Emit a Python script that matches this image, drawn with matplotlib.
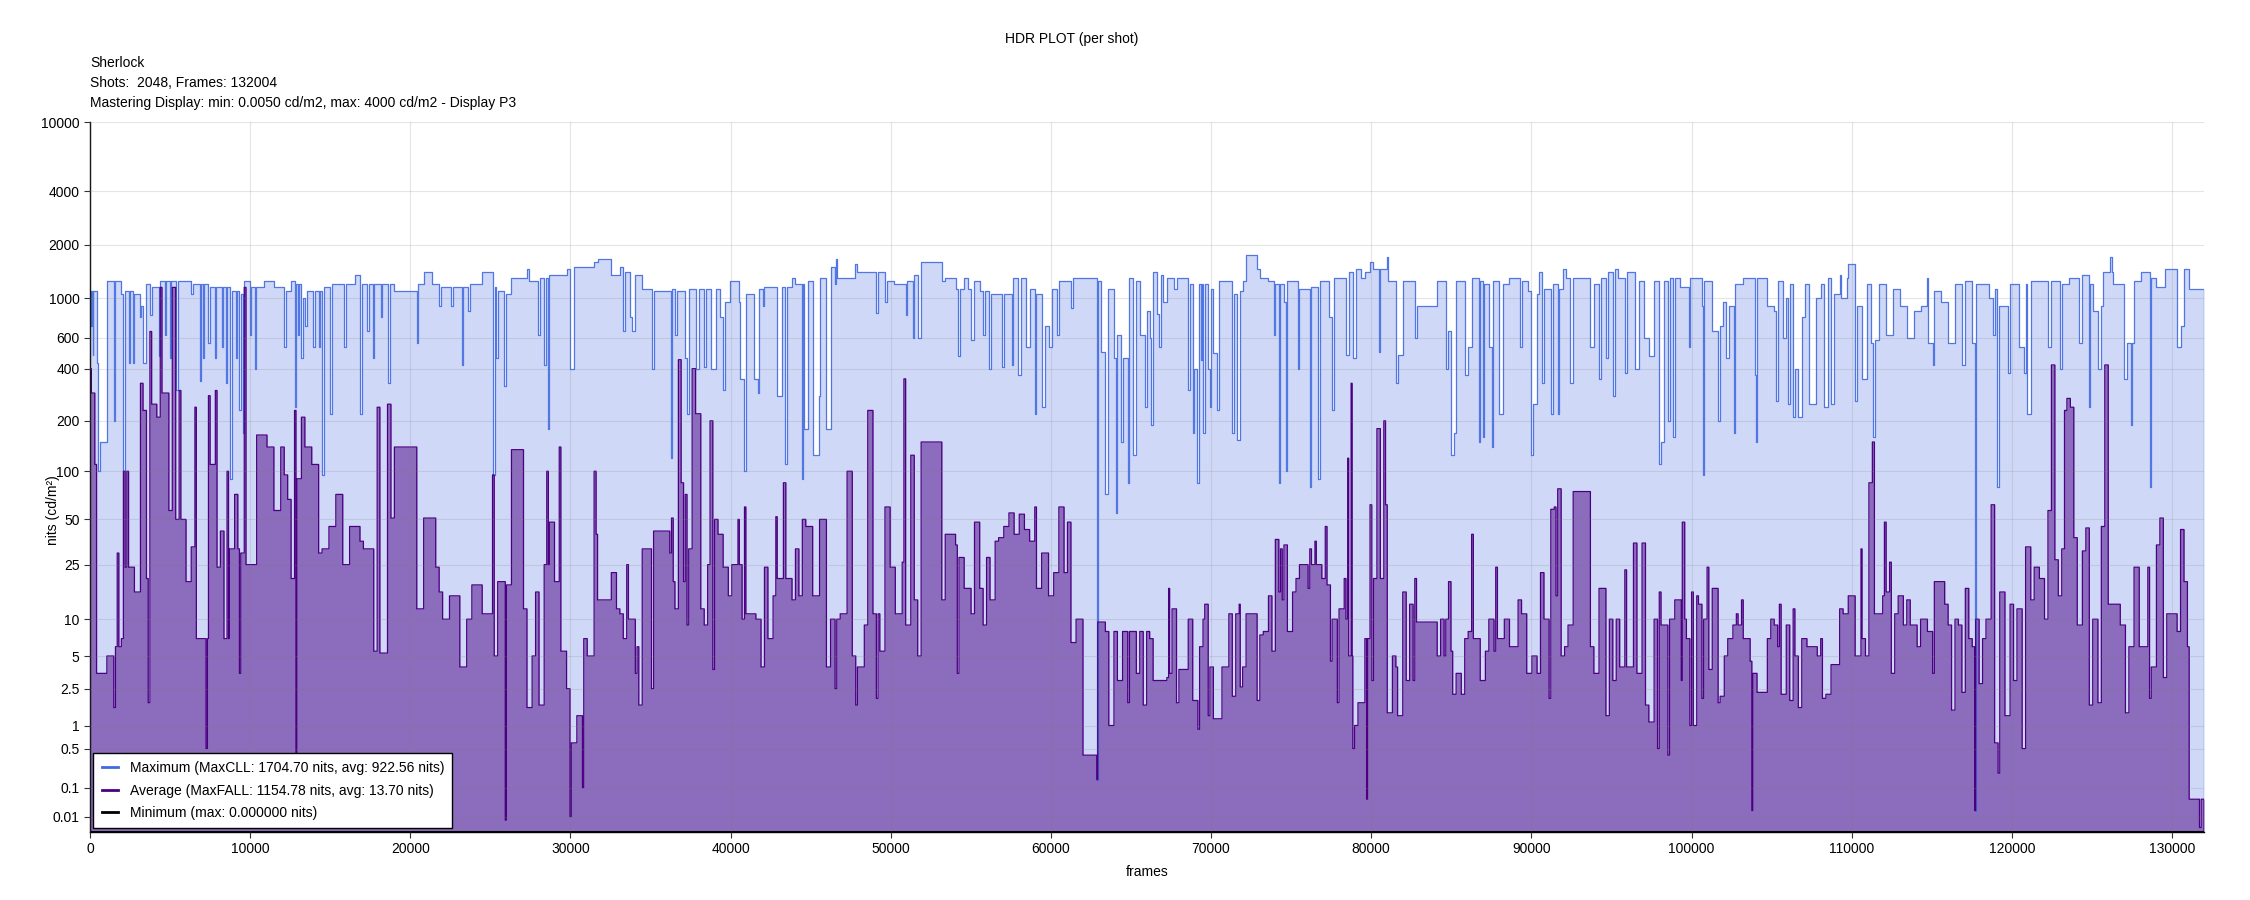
import numpy as np
import matplotlib
matplotlib.use('Agg')
import matplotlib.pyplot as plt
from matplotlib.lines import Line2D
from matplotlib.ticker import NullLocator

plt.rcParams['font.family'] = ['Liberation Sans', 'DejaVu Sans']

# ---- data ----
title = 'HDR PLOT (per shot)'
info_lines = ['Sherlock',
              'Shots:  2048, Frames: 132004',
              'Mastering Display: min: 0.0050 cd/m2, max: 4000 cd/m2 - Display P3']
total_frames = 132004

y_ticks = [0.01, 0.1, 0.5, 1, 2.5, 5, 10, 25, 50, 100, 200, 400, 600, 1000, 2000, 4000, 10000]
y_tick_labels = ['0.01', '0.1', '0.5', '1', '2.5', '5', '10', '25', '50', '100', '200',
                 '400', '600', '1000', '2000', '4000', '10000']
x_ticks = list(range(0, 130001, 10000))

legend_labels = ['Maximum (MaxCLL: 1704.70 nits, avg: 922.56 nits)',
                 'Average (MaxFALL: 1154.78 nits, avg: 13.70 nits)',
                 'Minimum (max: 0.000000 nits)']

# (shot start frame, max nits)
max_shots = [
    (0, 1100), (86, 700), (130, 1100), (170, 480), (215, 1100), (410, 430), (516, 100), (624, 150),
    (1054, 1250), (1484, 200), (1590, 1250), (1957, 1050), (2085, 100), (2193, 1100), (2408, 430),
    (2473, 1100), (2666, 430), (2774, 1050), (3096, 780), (3204, 900), (3311, 430), (3526, 1200),
    (3741, 800), (3849, 1150), (4280, 470), (4386, 1250), (4709, 620), (4773, 1250), (4988, 460),
    (5053, 1250), (5400, 300), (5480, 1250), (6321, 1050), (6429, 1200), (6859, 340), (6923, 1200),
    (7074, 460), (7138, 1200), (7396, 560), (7482, 1150), (7826, 460), (7890, 1150), (8256, 530),
    (8320, 1150), (8471, 330), (8557, 1150), (8750, 90), (8836, 1100), (9116, 460), (9202, 1100),
    (9331, 230), (9417, 1050), (9546, 170), (9632, 1250), (9976, 620), (10062, 1150), (10298, 400),
    (10384, 1150), (10836, 1250), (11481, 1150), (12126, 530), (12233, 1100), (12556, 1250),
    (12771, 240), (12878, 1200), (12986, 620), (13072, 1200), (13201, 460), (13308, 1000),
    (13416, 700), (13523, 1100), (13953, 530), (14060, 1100), (14275, 530), (14383, 1100),
    (14490, 95), (14619, 1150), (14963, 220), (15136, 1200), (15888, 530), (15996, 1200),
    (16533, 1350), (16856, 220), (16963, 1200), (17286, 650), (17393, 1200), (17673, 460),
    (17759, 1200), (18146, 780), (18253, 1200), (18576, 330), (18705, 1200), (19006, 1100),
    (20403, 560), (20511, 1200), (20833, 1400), (21371, 1200), (21801, 900), (21908, 1150),
    (22553, 900), (22661, 1150), (23198, 420), (23306, 1150), (23628, 850), (23736, 1200),
    (24488, 1400), (25133, 95), (25263, 1150), (25349, 460), (25456, 1100), (25843, 320),
    (25950, 1050), (26316, 1300), (27283, 1450), (27391, 1250), (27993, 620), (28079, 1300),
    (28359, 420), (28466, 1300), (28573, 180), (28681, 1350), (29756, 1450), (29971, 400),
    (30229, 1500), (31476, 1600), (31691, 1650), (32551, 1350),
    (33083, 1500), (33298, 650), (33406, 1400), (33728, 780), (33836, 650), (34051, 1350),
    (34481, 1120), (35061, 400), (35190, 1100), (36265, 120), (36351, 1120), (36523, 620),
    (36631, 1100), (37168, 460), (37276, 220), (37383, 1120), (37813, 400), (38028, 1120),
    (38351, 410), (38458, 1120), (38781, 400), (39103, 1120), (39318, 780), (39533, 300),
    (39641, 950), (39963, 1250), (40501, 950), (40608, 350), (40866, 100), (40952, 1050),
    (41468, 350), (41683, 290), (41790, 1120), (42006, 900), (42113, 1150), (42866, 280),
    (43188, 1150), (43403, 110), (43511, 1150), (43833, 1300), (44048, 1200), (44435, 90),
    (44521, 1200), (44586, 180), (44801, 1250), (45123, 125), (45510, 280), (45553, 1300),
    (45983, 180), (46241, 1500), (46521, 1200), (46585, 1650), (46671, 1300), (47768, 1550),
    (47918, 1400), (49100, 830), (49208, 1400), (49638, 950), (49746, 1250), (50176, 1200),
    (50928, 800), (51036, 1250), (51358, 600), (51466, 1350), (51681, 600), (51896, 1600),
    (53186, 1250), (53401, 1300), (54046, 1120), (54196, 470), (54304, 1120), (54583, 1300),
    (54798, 1120), (55013, 580), (55228, 1250), (55551, 1100), (55766, 620), (55873, 1100),
    (56153, 400), (56239, 1050), (56948, 410), (57056, 1050), (57550, 420), (57636, 1300),
    (57916, 370), (58131, 1300), (58453, 530), (58668, 1120), (58991, 220), (59098, 1050),
    (59421, 240), (59636, 700), (59851, 530), (60066, 1120), (60388, 620), (60496, 1250),
    (61248, 880), (61356, 1300), (62861, 0.15), (62925, 1250), (63140, 500), (63398, 72),
    (63570, 1120), (63936, 460), (64043, 55), (64151, 620), (64366, 150), (64473, 460),
    (64796, 85), (64903, 1300), (65118, 125), (65333, 1250), (65548, 620), (65871, 240),
    (65978, 850),
    (66165, 600), (66273, 190), (66380, 1400), (66595, 820), (66767, 530), (66853, 1350),
    (67025, 950), (67240, 1300), (67670, 1120), (67885, 1300), (68573, 300), (68702, 1200),
    (68853, 170), (68960, 400), (69132, 85), (69218, 1200), (69347, 450), (69433, 1200),
    (69498, 170), (69605, 1200), (69777, 400), (69949, 240), (69992, 1120), (70143, 490),
    (70358, 230), (70465, 1250), (71325, 170), (71433, 1050), (71648, 155), (71798, 1100),
    (71970, 1250), (72185, 1750), (72873, 1450), (73045, 1300), (73583, 1250), (73905, 620),
    (74013, 1200), (74228, 85), (74292, 1200), (74550, 950), (74658, 100), (74765, 1250),
    (75410, 400), (75475, 1120), (76163, 80), (76270, 1150), (76700, 90), (76808, 1250),
    (77345, 780), (77560, 230), (77668, 1300), (78420, 480), (78635, 1400), (78850, 460),
    (79065, 1450), (79388, 1300), (79603, 1400), (79925, 1600), (80140, 1450), (80463, 500),
    (80570, 1450), (80957, 1700), (81043, 1250), (81538, 330), (81645, 480), (81968, 1250),
    (82720, 600), (82828, 900), (84118, 1250), (84655, 400), (84763, 650), (84978, 125),
    (85193, 170), (85300, 1250), (85838, 370), (86053, 530), (86268, 1300), (86698, 150),
    (86762, 1250), (86977, 160), (87042, 1200), (87343, 530), (87515, 140), (87601, 1250),
    (87988, 220), (88203, 1200), (88633, 1300), (89278, 530), (89385, 1250), (89815, 1100),
    (89987, 125), (90073, 250), (90353, 1050), (90460, 1400), (90632, 330), (90783, 1120),
    (91213, 220), (91320, 1200), (91643, 220), (91750, 1120), (91965, 1450), (92180, 1300),
    (92395, 330), (92610, 1300), (93685, 530), (93900, 1200), (94223, 350), (94330, 1300),
    (94653, 460), (94760, 1400), (95083, 280), (95190, 1450), (95405, 1300), (95835, 380),
    (95943, 1400), (96480, 400), (96695, 1250), (97018, 600), (97333, 470), (97663, 1250),
    (97985, 110), (98093, 150), (98308, 1250), (98523, 200), (98630, 1300), (98845, 160),
    (98953, 1300),
    (99250, 1150), (99852, 530), (99917, 1300), (100648, 900), (100712, 95), (100777, 1250),
    (101293, 650), (101658, 200), (101787, 700), (101938, 950), (102153, 460), (102368, 900),
    (102647, 170), (102712, 1200), (103228, 1300), (103937, 370), (104023, 150), (104088, 1300),
    (104733, 900), (105163, 850), (105270, 260), (105378, 1250), (105700, 600), (105915, 1000),
    (106023, 250), (106130, 1200), (106345, 210), (106453, 400), (106668, 210), (106883, 780),
    (107098, 1200), (107313, 250), (107743, 1000), (108065, 1200), (108280, 240), (108495, 1300),
    (108710, 250), (108925, 1050), (109248, 1350), (109355, 1000), (109678, 1300), (109785, 1550),
    (110215, 260), (110323, 900), (110645, 350), (110968, 1200), (111183, 560), (111333, 160),
    (111462, 580), (111720, 1200), (112150, 620), (112580, 1120), (113010, 900), (113440, 600),
    (113870, 850), (114300, 900), (114687, 1300), (114773, 560), (115096, 420), (115160, 1100),
    (115590, 950), (116020, 560), (116450, 1200), (116880, 420), (117095, 1250), (117525, 560),
    (117676, 0.02), (117740, 1200), (118600, 1000), (118815, 620), (118923, 1120), (119095, 80),
    (119180, 900), (119783, 380), (119890, 1200), (120428, 530), (120750, 380), (120858, 1200),
    (120965, 220), (121180, 1250), (122255, 530), (122470, 1250), (123008, 400), (123115, 1200),
    (123545, 1300), (124190, 560), (124405, 1350), (124792, 240), (124878, 1200), (125050, 850),
    (125373, 400), (125588, 900), (125695, 1400), (126125, 1700), (126233, 1400), (126340, 1200),
    (126985, 350), (127200, 560), (127415, 190), (127523, 560), (127630, 1250), (128060, 1400),
    (128598, 80), (128684, 1300), (129028, 1150), (129565, 1450), (130318, 530), (130533, 700),
    (130748, 1450), (131070, 1120),
]

# (shot start frame, average nits)
avg_shots = [
    (0, 400), (86, 290), (300, 110), (410, 3.5), (1054, 5), (1484, 1.6), (1590, 6), (1700, 30),
    (1800, 6), (1957, 7), (2085, 100), (2193, 24), (2300, 100), (2408, 24), (2774, 16),
    (3150, 330), (3311, 230), (3526, 20), (3634, 1.8), (3741, 650), (3849, 250), (4171, 210),
    (4386, 1150), (4494, 290), (4924, 57), (5138, 1150), (5350, 50), (5565, 300), (5672, 50),
    (5995, 19), (6321, 33), (6550, 240), (6640, 7), (7245, 0.5), (7330, 7), (7396, 280),
    (7500, 110), (7826, 300), (7930, 24), (8141, 42), (8364, 7), (8557, 100), (8650, 7),
    (8692, 32), (9030, 72), (9230, 32), (9331, 3.5), (9417, 30), (9632, 1150), (9740, 25),
    (10406, 165), (11051, 140), (11481, 57), (11911, 140), (12126, 95), (12341, 67), (12556, 20),
    (12771, 230), (12860, 0.005), (12920, 90), (13201, 210), (13416, 140), (13845, 110),
    (14275, 30), (14490, 32), (14920, 45), (15350, 72), (15780, 25), (16210, 45), (16856, 36),
    (17071, 32), (17716, 5.5), (17931, 240), (18100, 5.3), (18576, 250), (18790, 51),
    (19006, 140), (20403, 12), (20833, 51), (21586, 24), (21801, 16), (22016, 10), (22446, 15),
    (23091, 4), (23521, 10), (23843, 18), (24488, 11), (25133, 95), (25240, 5), (25456, 19),
    (25930, 0.006), (26000, 18), (26316, 135), (27068, 12), (27283, 1.6), (27606, 5),
    (27821, 16), (28036, 1.7), (28359, 25), (28520, 100), (28620, 25), (28681, 48), (29004, 19),
    (29300, 140), (29400, 5.5), (29756, 2.5), (29971, 0.01), (30050, 0.6), (30400, 1.3),
    (30750, 0.1), (30830, 7), (31046, 5), (31476, 100), (31600, 40), (31691, 14), (32551, 22),
    (32873, 12),
    (33083, 11), (33298, 7), (33513, 25), (33620, 10), (34051, 3.5), (34158, 6), (34266, 1.7),
    (34481, 32), (35061, 2.5), (35190, 42), (36200, 30), (36308, 51), (36416, 19), (36523, 12),
    (36738, 450), (36910, 85), (37061, 19), (37168, 72), (37276, 9), (37383, 32), (37598, 400),
    (37813, 220), (38136, 12), (38351, 9), (38566, 25), (38716, 200), (38888, 3.8), (38996, 50),
    (39211, 40), (39533, 24), (39856, 15), (40071, 25), (40458, 50), (40544, 25), (40716, 10),
    (40866, 60), (40952, 11), (41576, 10), (41898, 4), (42113, 24), (42328, 7), (42651, 15),
    (42823, 52), (42909, 20), (43296, 85), (43446, 20), (43833, 14), (44048, 32), (44263, 15),
    (44478, 50), (44693, 45), (45123, 15), (45553, 50), (45983, 4), (46241, 10), (46521, 2.5),
    (46628, 10), (46843, 11), (47273, 100), (47596, 5), (47811, 1.7), (47918, 4), (48348, 9),
    (48563, 230), (48886, 11), (49101, 2), (49208, 11), (49316, 5.5), (49638, 60), (49961, 24),
    (50283, 11), (50713, 26), (50821, 350), (50928, 9), (51251, 125), (51466, 14), (51681, 5),
    (51896, 150), (53186, 14), (53401, 40), (54046, 34), (54153, 3.5), (54261, 28), (54583, 17),
    (55013, 11), (55228, 48), (55551, 17), (55766, 9), (55981, 28), (56196, 14), (56518, 36),
    (56733, 38), (57056, 45), (57378, 55), (57701, 40), (58023, 54), (58346, 43), (58668, 36),
    (58991, 60), (59098, 17), (59421, 30), (59851, 15), (60173, 22), (60496, 60), (60818, 22),
    (61033, 48), (61248, 6.5), (61571, 10), (62000, 0.4), (62861, 0.15), (62925, 9.5),
    (63398, 8), (63613, 1), (63936, 8), (64151, 3), (64473, 8), (64796, 1.8), (64903, 8),
    (65333, 3.5), (65548, 8), (65763, 1.7), (65978, 8),
    (66165, 7), (66380, 3), (67240, 3.2), (67348, 17), (67412, 3.5), (67563, 12), (67842, 1.8),
    (67993, 3.8), (68573, 10), (68853, 1.9), (69175, 0.9), (69283, 6), (69498, 10), (69605, 13),
    (69820, 1.3), (69928, 4), (70143, 1.2), (70680, 4), (71110, 11), (71325, 2.1), (71540, 11),
    (71755, 13), (71820, 2.6), (71970, 4), (72185, 11), (72873, 1.9), (73045, 7.5), (73260, 8),
    (73583, 15), (73798, 5.5), (74013, 37), (74228, 16), (74335, 32), (74443, 14), (74550, 34),
    (74765, 8), (75088, 16), (75303, 20), (75518, 25), (76055, 17), (76163, 32), (76270, 25),
    (76485, 36), (76571, 25), (76915, 20), (77130, 45), (77238, 18), (77453, 4.5), (77560, 10),
    (77883, 1.8), (77990, 12), (78313, 20), (78420, 10), (78528, 120), (78592, 5), (78743, 330),
    (78807, 5), (78850, 0.5), (78958, 1), (79173, 1.8), (79603, 7), (79710, 0.05), (79775, 7),
    (79925, 62), (80033, 3), (80140, 20), (80355, 180), (80570, 20), (80785, 200), (80893, 62),
    (81000, 1.4), (81323, 5), (81538, 4), (81645, 1.3), (81968, 16), (82183, 3), (82398, 13),
    (82613, 3), (82720, 20), (82828, 9.5), (84118, 5), (84333, 10), (84548, 5), (84655, 10),
    (84827, 19), (84978, 5.5), (85085, 2.2), (85300, 3.5), (85623, 2.2), (85838, 7), (86053, 8),
    (86268, 40), (86375, 7), (86805, 3), (87128, 5.5), (87343, 10), (87665, 5.5), (87773, 24),
    (87880, 7), (88310, 10), (88633, 6), (89170, 14), (89385, 11), (89708, 3.5), (90030, 5),
    (90353, 3.5), (90568, 22), (90783, 10), (91105, 2), (91213, 58), (91428, 60), (91535, 15),
    (91643, 78), (91858, 5), (92073, 6), (92288, 9), (92610, 75), (93685, 6), (93900, 3.5),
    (94223, 17), (94653, 1.3), (94868, 10), (95083, 3), (95298, 10), (95513, 4), (95835, 23),
    (95943, 4), (96373, 35), (96588, 3.5), (96910, 35), (97125, 1.7), (97333, 1.1), (97663, 10),
    (97878, 0.5), (97985, 16), (98093, 9), (98523, 0.4), (98630, 10), (98953, 14),
    (99250, 14), (99358, 3), (99422, 48), (99573, 10), (99680, 7), (99895, 1), (100003, 16),
    (100110, 1), (100325, 15), (100433, 13), (100648, 2), (100755, 10), (100970, 24),
    (101078, 3.8), (101293, 17), (101658, 1.8), (101787, 2.1), (102045, 5), (102260, 7),
    (102583, 9), (102798, 11), (102905, 9), (103120, 14), (103228, 7), (103658, 4.5),
    (103765, 0.02), (103830, 3.5), (104088, 2.3), (104733, 7), (104948, 10), (105163, 9),
    (105378, 6), (105485, 13), (105593, 2.2), (105915, 9), (106130, 1.9), (106345, 12),
    (106453, 5), (106668, 1.6), (106883, 7), (107205, 6), (107850, 5), (108065, 7), (108173, 2),
    (108388, 2.2), (108710, 4.2), (109248, 12), (109463, 11), (109785, 15), (110215, 5),
    (110580, 32), (110645, 7), (110860, 5), (111075, 85), (111290, 150), (111419, 11),
    (111935, 15), (112043, 48), (112150, 16), (112365, 26), (112473, 3.5), (112688, 11),
    (112903, 15), (113225, 9), (113440, 14), (113655, 9), (114085, 6), (114300, 10), (114730, 8),
    (115053, 3.5), (115160, 19), (115805, 13), (116020, 9), (116235, 1.5), (116450, 10),
    (116665, 9), (116880, 2.3), (117095, 17), (117310, 7), (117525, 6), (117676, 0.02),
    (117740, 10), (117955, 2.8), (118170, 7), (118385, 10), (118708, 62), (118923, 0.6),
    (119138, 0.2), (119245, 16), (119568, 1.3), (119890, 13), (120105, 3), (120320, 12),
    (120643, 0.5), (120858, 33), (121180, 14), (121395, 24), (121718, 20), (122040, 10),
    (122255, 57), (122470, 420), (122685, 27), (122900, 15), (123115, 32), (123287, 230),
    (123438, 270), (123653, 240), (123868, 38), (124083, 9), (124405, 31), (124620, 44),
    (124835, 1.7), (125050, 10), (125373, 1.8), (125588, 45), (125803, 420), (126018, 13),
    (126770, 9), (127093, 1.4), (127308, 6), (127630, 24), (127953, 6), (128490, 24),
    (128598, 2), (128705, 4), (129028, 34), (129243, 51), (129458, 3.2), (129673, 11),
    (130318, 8), (130533, 43), (130748, 19), (130963, 6), (131070, 0.05), (131715, 0.001),
    (131823, 0.05),
]

# minimum brightness is zero for every shot
min_shots = [(0, 0.0)]

# ---- SMPTE ST 2084 (PQ) axis ----
M1 = 2610 / 16384
M2 = 2523 / 4096 * 128
C1 = 3424 / 4096
C2 = 2413 / 4096 * 32
C3 = 2392 / 4096 * 32


def pq_encode(nits):
    y = np.clip(np.asarray(nits, dtype=float) / 10000.0, 0, None)
    ym = y ** M1
    return ((C1 + C2 * ym) / (1 + C3 * ym)) ** M2


def pq_decode(v):
    v = np.clip(np.asarray(v, dtype=float), 0, 1)
    vp = v ** (1 / M2)
    num = np.clip(vp - C1, 0, None)
    den = C2 - C3 * vp
    return 10000.0 * (num / den) ** (1 / M1)


def to_steps(shots):
    frames = np.array([s[0] for s in shots] + [total_frames], dtype=float)
    nits = np.array([s[1] for s in shots] + [0.0], dtype=float)
    return frames, nits


max_x, max_y = to_steps(max_shots)
avg_x, avg_y = to_steps(avg_shots)
min_x, min_y = to_steps(min_shots)

fig = plt.figure(figsize=(22.5, 9), dpi=100)
ax = fig.add_axes([0.04, 0.0756, 0.9396, 0.7888])
ax.set_yscale('function', functions=(pq_encode, pq_decode))

ax.fill_between(max_x, max_y, 0, step='post', color='royalblue', alpha=0.25, lw=0)
ax.step(max_x, max_y, where='post', color='royalblue', lw=0.9, alpha=0.9)
ax.fill_between(avg_x, avg_y, 0, step='post', color='indigo', alpha=0.5, lw=0)
ax.step(avg_x, avg_y, where='post', color='indigo', lw=0.9)
ax.step(min_x, min_y, where='post', color='black', lw=1.5)

ax.set_xlim(0, total_frames)
ax.set_ylim(0, 10000)
ax.set_yticks(y_ticks, y_tick_labels)
ax.yaxis.set_minor_locator(NullLocator())
ax.set_xticks(x_ticks, [str(t) for t in x_ticks])
ax.tick_params(labelsize=10, length=4, color='#333333')

ax.grid(True, color='#808080', alpha=0.2, lw=0.8)
ax.set_axisbelow(False)
for side in ['top', 'right']:
    ax.spines[side].set_visible(False)
for side in ['left', 'bottom']:
    ax.spines[side].set_color('black')
    ax.spines[side].set_linewidth(1.0)

ax.set_ylabel('nits (cd/m\u00b2)', fontsize=10)
ax.yaxis.set_label_coords(-0.014, 0.453)
ax.set_xlabel('frames', fontsize=10, labelpad=6)

handles = [Line2D([0], [0], color='royalblue', lw=2),
           Line2D([0], [0], color='indigo', lw=2),
           Line2D([0], [0], color='black', lw=2)]
leg = ax.legend(handles, legend_labels, loc='lower left', fontsize=10, frameon=True,
                fancybox=False, edgecolor='black', framealpha=1, handlelength=1.2,
                borderaxespad=0.25, labelspacing=0.62, borderpad=0.6)
leg.get_frame().set_linewidth(1.0)

fig.text(1072 / 2250, 1 - 39 / 900, title, ha='center', va='center', fontsize=10)
for i, line in enumerate(info_lines):
    fig.text(0.04, 1 - (63 + 20 * i) / 900, line, ha='left', va='center', fontsize=10)

fig.savefig('out.png', dpi=100)
